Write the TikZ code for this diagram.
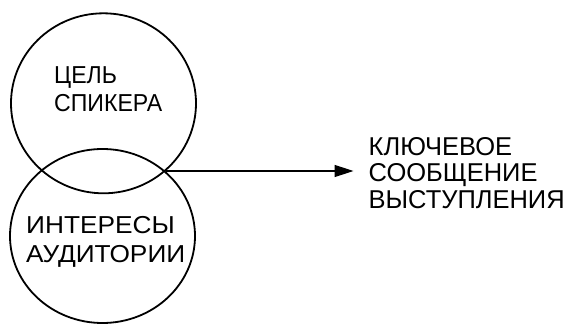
\documentclass[tikz,border=0pt]{standalone}
\usepackage{fontspec}
\setmainfont{Liberation Sans}
\usetikzlibrary{shapes.geometric,arrows.meta}

\newcommand\ringfont{\fontsize{24.5}{28.4}\selectfont}
\newcommand\msgfont{\fontsize{25.8}{26.4}\selectfont}
\newlength\labelwd

% horizontal scale factors that give each label block its set width
\AtBeginDocument{%
  \settowidth\labelwd{\normalfont\ringfont СПИКЕРА}%
  \pgfmathsetmacro\goalsx{108/\labelwd}%
  \global\let\goalsx\goalsx
  \settowidth\labelwd{\normalfont\ringfont АУДИТОРИИ}%
  \pgfmathsetmacro\audsx{159/\labelwd}%
  \global\let\audsx\audsx
  \settowidth\labelwd{\normalfont\msgfont ВЫСТУПЛЕНИЯ}%
  \pgfmathsetmacro\msgsx{196/\labelwd}%
  \global\let\msgsx\msgsx
}

\tikzset{
  ring/.style={draw=black, line width=1.8pt, ellipse, inner sep=0pt},
  ringtext/.style={anchor=north west, inner sep=0pt, align=left,
    font=\ringfont, transform shape},
  msgtext/.style={anchor=north west, inner sep=0pt, align=left,
    font=\msgfont, transform shape},
  link/.style={draw=black, line width=1.5pt, -{Triangle[length=19pt,width=12pt]}}
}

\begin{document}
\begin{tikzpicture}[x=1pt, y=-1pt]
  \useasboundingbox (0,0) rectangle (566,326);

  % two overlapping circles
  \node[ring, minimum width=185pt, minimum height=180pt] (goal) at (103.5,103.3) {};
  \node[ring, minimum width=185pt, minimum height=174pt] (audience) at (102.5,236) {};

  % labels inside the circles
  \node[ringtext, xscale=\goalsx] (goaltext) at (54,66.5) {ЦЕЛЬ\\СПИКЕРА};
  \node[ringtext, xscale=\audsx] (audtext) at (26,216.5) {ИНТЕРЕСЫ\\АУДИТОРИИ};

  % right-hand crossing point of the circles
  \coordinate (cross) at (166,171);

  % resulting message
  \node[msgtext, xscale=\msgsx] (msg) at (368.5,137.3) {КЛЮЧЕВОЕ\\СООБЩЕНИЕ\\ВЫСТУПЛЕНИЯ};

  \draw[link, shorten >=15pt] (cross) -- (cross -| msg.west);
\end{tikzpicture}
\end{document}
